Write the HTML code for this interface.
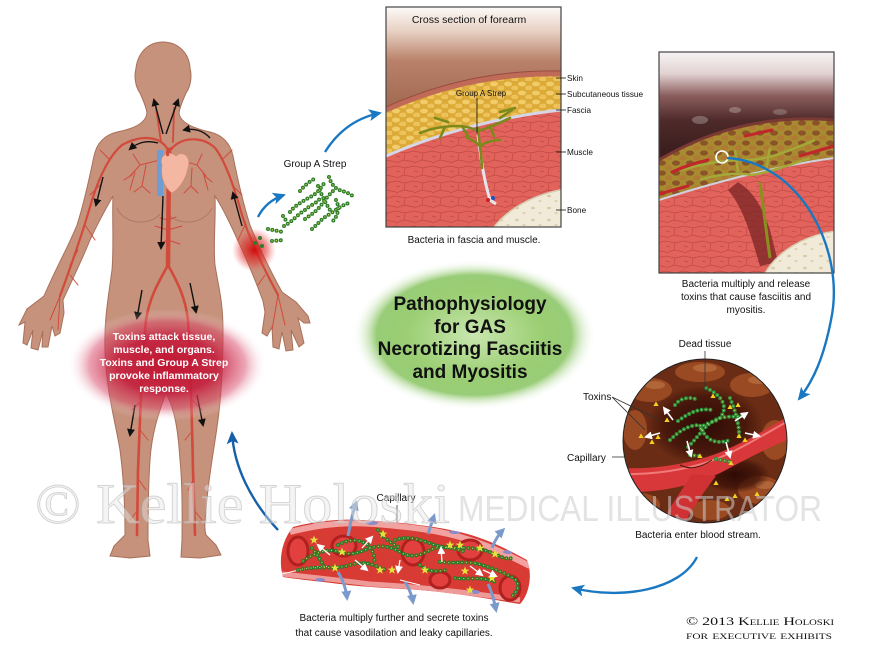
<!DOCTYPE html>
<html><head><meta charset="utf-8"><style>
html,body{margin:0;padding:0;background:#fff;}
svg{display:block;}
text{font-family:"Liberation Sans",Arial,sans-serif;}
text.serif{font-family:"Liberation Serif","DejaVu Serif",serif;}
</style></head><body>
<svg width="870" height="650" viewBox="0 0 870 650" xmlns="http://www.w3.org/2000/svg">
<defs>
  <marker id="bArr" markerUnits="userSpaceOnUse" markerWidth="14" markerHeight="12" refX="11" refY="6" orient="auto"><path d="M0,0 L13,6 L0,12 L3,6 z" fill="#1a78c2"/></marker>
  <marker id="bArr2" markerUnits="userSpaceOnUse" markerWidth="14" markerHeight="12" refX="11" refY="6" orient="auto"><path d="M0,0 L13,6 L0,12 L3,6 z" fill="#1560a8"/></marker>
  <marker id="kArr" markerUnits="userSpaceOnUse" markerWidth="8" markerHeight="8" refX="6" refY="4" orient="auto"><path d="M0,0 L8,4 L0,8 z" fill="#111"/></marker>
  <marker id="wArr" markerUnits="userSpaceOnUse" markerWidth="8" markerHeight="8" refX="6" refY="4" orient="auto"><path d="M0,0 L8,4 L0,8 z" fill="#fff"/></marker>
  <marker id="cArr" markerUnits="userSpaceOnUse" markerWidth="10" markerHeight="10" refX="7" refY="5" orient="auto"><path d="M0,0 L10,5 L0,10 z" fill="#7a9acb"/></marker>

  <radialGradient id="greenG" cx="50%" cy="50%" r="50%">
    <stop offset="0" stop-color="#c9e6b0"/><stop offset="0.55" stop-color="#9ccf74"/><stop offset="0.8" stop-color="#80c056" stop-opacity="0.8"/><stop offset="1" stop-color="#ffffff" stop-opacity="0"/>
  </radialGradient>
  <radialGradient id="redGlow" cx="50%" cy="50%" r="50%">
    <stop offset="0" stop-color="#c0102e" stop-opacity="0.95"/><stop offset="0.5" stop-color="#c41c3c" stop-opacity="0.88"/><stop offset="0.78" stop-color="#d84868" stop-opacity="0.5"/><stop offset="1" stop-color="#ffffff" stop-opacity="0"/>
  </radialGradient>
  <radialGradient id="armGlow" cx="50%" cy="50%" r="50%">
    <stop offset="0" stop-color="#d00808" stop-opacity="0.95"/><stop offset="0.6" stop-color="#e03030" stop-opacity="0.5"/><stop offset="1" stop-color="#ff6060" stop-opacity="0"/>
  </radialGradient>
  <linearGradient id="csBg" x1="0" y1="7" x2="0" y2="105" gradientUnits="userSpaceOnUse">
    <stop offset="0" stop-color="#fdfaf8"/><stop offset="0.25" stop-color="#e7d0c2"/><stop offset="0.55" stop-color="#b98169"/><stop offset="1" stop-color="#a26b52"/>
  </linearGradient>
  <linearGradient id="trBg" x1="0" y1="52" x2="0" y2="150" gradientUnits="userSpaceOnUse">
    <stop offset="0" stop-color="#f8f4f4"/><stop offset="0.22" stop-color="#e2d2d2"/><stop offset="0.45" stop-color="#8a5c5c"/><stop offset="0.7" stop-color="#4e2a2a"/><stop offset="1" stop-color="#3c1e1e"/>
  </linearGradient>
  <radialGradient id="circDark" cx="50%" cy="50%" r="50%">
    <stop offset="0" stop-color="#2a0804" stop-opacity="0.95"/><stop offset="0.7" stop-color="#3a1008" stop-opacity="0.7"/><stop offset="1" stop-color="#3a1008" stop-opacity="0"/>
  </radialGradient>
  <pattern id="fat" width="14" height="9" patternUnits="userSpaceOnUse">
    <rect width="14" height="9" fill="#dcaa38"/>
    <ellipse cx="4" cy="3" rx="4" ry="2.4" fill="#f2cc68"/>
    <ellipse cx="11" cy="7" rx="4" ry="2.4" fill="#eec25a"/>
  </pattern>
  <pattern id="nfat" width="14" height="10" patternUnits="userSpaceOnUse">
    <rect width="14" height="10" fill="#a88a30"/>
    <ellipse cx="4" cy="3" rx="4" ry="2.6" fill="#8a5428"/>
    <ellipse cx="11" cy="8" rx="4" ry="2.6" fill="#b07a34"/>
  </pattern>
  <pattern id="mus" width="18" height="15" patternUnits="userSpaceOnUse">
    <rect width="18" height="15" fill="#e2635b"/>
    <path d="M0,1 L9,3 L18,1 M9,3 L8,10 L0,13 M8,10 L18,12 M4,7 L0,6" stroke="#c04a44" stroke-width="0.7" fill="none"/>
  </pattern>
  <pattern id="bone" width="16" height="12" patternUnits="userSpaceOnUse">
    <rect width="16" height="12" fill="#f2ead8"/>
    <ellipse cx="5" cy="4" rx="2" ry="1.3" fill="#d9cba8"/>
    <ellipse cx="12" cy="9" rx="1.6" ry="1" fill="#ddd0b0"/>
  </pattern>
  <clipPath id="csClip"><rect x="386" y="7" width="175" height="220"/></clipPath>
  <clipPath id="trClip"><rect x="659" y="52" width="175" height="221"/></clipPath>
  <clipPath id="ciClip"><circle cx="705" cy="441" r="82"/></clipPath>
  <clipPath id="capClip"><path d="M293,527 C320,520 345,519 360,520 C400,522 433,526 460,532 C485,538 505,548 527,560 C533,575 529,595 520,604 C500,601 470,595 430,591 C400,588 370,588 340,584 C315,581 295,579 283,577 C278,560 282,540 293,527 Z"/></clipPath>

  <g id="strepA">
    <path d="M300,191 C305,185 310,181 316,178"/>
    <path d="M290,212 C295,205 305,200 312,196 C318,193 322,186 325,182"/>
    <path d="M284,226 C292,222 298,214 305,210 C310,205 318,203 320,198"/>
    <path d="M305,219 C312,214 318,210 322,204 C326,198 330,194 334,190"/>
    <path d="M312,229 C318,224 322,218 330,214 C336,210 340,206 349,203"/>
    <path d="M318,186 C322,196 326,204 330,210"/>
    <path d="M329,177 C332,186 336,190 346,192 L353,196"/>
    <path d="M336,200 C340,208 338,216 332,222"/>
    <path d="M268,229 L283,232"/>
    <path d="M272,241 L284,240"/>
    <path d="M283,216 L287,222"/>
  </g>
  <g id="strepC">
    <path d="M706,388 C720,394 728,405 722,415 C716,425 705,420 700,430"/>
    <path d="M678,421 C690,412 700,408 712,410"/>
    <path d="M670,440 C680,430 690,425 700,425 C705,440 715,445 730,440"/>
    <path d="M688,447 C700,435 705,425 715,420 C725,415 735,418 746,415"/>
    <path d="M730,398 C735,410 740,425 739,440"/>
    <path d="M675,405 C680,398 690,396 698,400"/>
    <path d="M690,455 L700,456"/>
    <path d="M716,459 L731,462"/>
  </g>
  <g id="strepB">
    <path d="M303,561 C315,552 330,548 340,552 C352,556 360,552 370,548 C380,545 390,546 400,552 C410,558 420,556 430,550 C440,545 455,548 465,552"/>
    <path d="M298,570 C320,565 335,570 350,565 C365,560 375,565 388,571"/>
    <path d="M338,545 C348,539 360,539 368,545 C372,550 376,556 374,562"/>
    <path d="M395,540 C410,535 420,540 435,545 C450,550 470,545 490,552 C500,556 505,560 512,558"/>
    <path d="M440,562 C455,564 470,560 485,566 C495,569 505,573 515,579 C520,585 518,591 512,596"/>
    <path d="M455,578 C468,580 480,576 496,582"/>
    <path d="M378,530 C385,540 395,545 400,548"/>
    <path d="M312,548 C318,556 322,562 326,570"/>
    <path d="M420,565 C428,572 436,572 446,570"/>
  </g>
  <polygon id="star" points="0,-4.5 1.2,-1.4 4.3,-1.4 1.8,0.6 2.7,3.7 0,1.9 -2.7,3.7 -1.8,0.6 -4.3,-1.4 -1.2,-1.4" fill="#e6e23c"/>
  <polygon id="tri" points="0,-2.6 2.6,2 -2.6,2" fill="#f2d21e"/>
</defs>

<!-- ===== Center green ellipse ===== -->
<ellipse cx="474" cy="335" rx="122" ry="75" fill="url(#greenG)"/>
<g font-weight="bold" font-size="19" fill="#111" text-anchor="middle">
  <text x="470" y="310">Pathophysiology</text>
  <text x="470" y="333">for GAS</text>
  <text x="470" y="355">Necrotizing Fasciitis</text>
  <text x="470" y="378">and Myositis</text>
</g>

<!-- ===== Body ===== -->
<path d="M163,42 C177,42 189,52 190,68 C192,76 191,86 186,93 C183,100 180,106 179,113 C180,122 192,128 210,132 C222,135 230,142 233,156 C237,176 242,200 250,225 C258,245 270,270 282,292 L296,302 L308,316 L310,323 L304,323 L298,318 L304,343 L299,347 L291,330 L293,350 L286,351 L282,332 L279,349 L273,347 L272,327 L267,336 L262,333 L265,312 L263,301 C256,282 246,258 238,241 C230,223 222,207 215,196 C216,220 213,245 215,265 C218,285 223,300 223,330 C223,360 222,390 218,420 C214,450 208,480 206,510 C205,520 204,528 206,535 L216,545 L221,555 L200,558 L181,557 L182,540 C182,520 183,490 180,460 C178,430 175,410 166,393 C160,410 152,430 150,460 C148,490 148,520 148,540 L150,556 L130,558 L110,556 L114,546 L125,535 C125,510 124,480 120,450 C115,420 106,390 105,350 C104,320 108,300 112,270 C114,245 112,220 113,196 C105,210 97,225 90,240 C82,260 72,280 63,300 L64,313 L60,333 L55,336 L52,326 L48,347 L42,347 L43,331 L38,350 L31,348 L33,330 L27,345 L23,343 L25,322 L19,325 L27,309 L44,296 C55,270 69,245 77,225 C85,200 90,175 94,156 C97,142 105,135 117,132 C137,128 146,122 147,113 C146,106 143,100 140,93 C135,86 134,76 136,68 C138,52 149,42 163,42 Z" fill="#c6927c" stroke="#a8705a" stroke-width="1"/>
<path d="M117,208 C124,225 150,226 160,214 M168,214 C178,226 204,225 212,208" fill="none" stroke="#a87060" stroke-width="0.8"/>

<!-- arteries -->
<g fill="none" stroke="#d24a3c" stroke-linecap="round">
  <path d="M169,150 L168,265" stroke-width="4.5"/>
  <path d="M168,265 C160,280 150,295 146,320 C142,360 140,420 138,470 L137,535" stroke-width="2.6"/>
  <path d="M168,265 C176,280 185,295 188,320 C190,360 192,420 193,470 L195,535" stroke-width="2.6"/>
  <path d="M168,150 C160,135 140,135 122,145 C110,155 100,175 92,200 C85,225 75,255 60,296" stroke-width="2.2"/>
  <path d="M172,148 C185,135 205,138 215,148 C225,160 235,190 242,215 C250,240 262,265 278,295" stroke-width="2.2"/>
  <path d="M161,142 L156,108 M173,142 L174,108" stroke-width="1.8"/>
  <g stroke-width="1">
    <path d="M160,160 L140,165 L130,176 M140,165 L133,154 M146,165 L142,186 L134,192 M142,186 L150,193 M132,175 L124,180 M135,172 L130,190"/>
    <path d="M180,160 L197,165 L206,176 M197,165 L202,154 M192,168 L191,186 L198,193 M191,186 L184,193 M205,176 L212,182 M203,172 L208,190"/>
    <path d="M168,230 L155,226 M168,230 L182,226 M168,240 L158,244 M168,240 L180,244 M168,220 L160,218 M168,220 L176,217"/>
    <path d="M146,330 L136,345 M145,360 L152,372 M142,400 L132,410 M140,430 L148,440 M139,480 L146,490 M138,510 L130,520"/>
    <path d="M189,330 L198,345 M190,360 L182,372 M192,400 L202,410 M193,430 L185,440 M193,480 L188,490 M194,510 L202,520"/>
    <path d="M110,160 L100,150 M100,185 L90,195 M85,225 L95,240 M78,250 L70,265 M70,275 L78,285"/>
    <path d="M222,160 L232,150 M232,185 L242,195 M245,225 L238,240 M253,250 L262,262 M265,275 L258,285"/>
    <path d="M60,296 L50,320 M60,296 L58,330 M278,295 L285,325 M278,295 L272,330"/>
  </g>
</g>
<rect x="157" y="150" width="6" height="46" fill="#6e9cd4"/>
<path d="M162,165 C158,155 170,150 176,156 C182,150 192,156 188,168 C186,180 178,190 172,193 C165,188 160,178 162,165 Z" fill="#f4b8a2" stroke="#d88c78" stroke-width="0.8"/>
<path d="M168,156 C166,150 170,147 172,150" fill="none" stroke="#d24a3c" stroke-width="3"/>

<g fill="none" stroke="#111" stroke-width="1.4" marker-end="url(#kArr)">
  <path d="M163,134 L154,100"/>
  <path d="M166,134 L178,100"/>
  <path d="M158,143 C148,140 138,142 130,149"/>
  <path d="M210,138 C203,130 193,128 184,130"/>
  <path d="M103,177 L96,205"/>
  <path d="M163,196 L161,248"/>
  <path d="M242,226 L233,193"/>
  <path d="M142,290 L137,318"/>
  <path d="M190,283 L196,312"/>
  <path d="M135,405 L130,435"/>
  <path d="M197,395 L203,425"/>
</g>

<ellipse cx="167" cy="365" rx="100" ry="56" fill="url(#redGlow)"/>
<circle cx="254" cy="250" r="22" fill="url(#armGlow)"/>
<g font-weight="bold" font-size="10.5" fill="#fff" text-anchor="middle">
  <text x="164" y="340">Toxins attack tissue,</text>
  <text x="164" y="353">muscle, and organs.</text>
  <text x="164" y="366">Toxins and Group A Strep</text>
  <text x="164" y="379">provoke inflammatory</text>
  <text x="164" y="392">response.</text>
</g>

<!-- ===== Group A strep ===== -->
<text x="315" y="167" font-size="10" text-anchor="middle" fill="#111">Group A Strep</text>
<use href="#strepA" fill="none" stroke="#2e7c2a" stroke-width="4" stroke-linecap="round" stroke-dasharray="0 4.4"/>
<use href="#strepA" fill="none" stroke="#c2dc52" stroke-width="1.4" stroke-linecap="round" stroke-dasharray="0 4.4"/>
<g fill="#2e7c2a"><circle cx="255" cy="243" r="2"/><circle cx="260" cy="238" r="2"/><circle cx="262" cy="246" r="2"/></g>

<!-- ===== Cross section panel ===== -->
<g clip-path="url(#csClip)">
  <rect x="386" y="7" width="175" height="220" fill="url(#csBg)"/>
  <path d="M386,112 Q470,74 561,76 L561,110 Q470,120 386,156 Z" fill="url(#fat)"/>
  <path d="M386,156 Q470,120 561,110 L561,230 L386,230 Z" fill="url(#mus)"/>
  <path d="M386,110 Q470,72 561,74" fill="none" stroke="#c06a58" stroke-width="5"/>
  <path d="M386,107 Q470,69 561,71" fill="none" stroke="#9a4a40" stroke-width="1"/>
  <path d="M386,156 Q470,120 561,110" fill="none" stroke="#d6d6e6" stroke-width="3"/>
  <path d="M478,135 C481,160 484,180 490,200 L496,204" fill="none" stroke="#e4e4ee" stroke-width="3"/>
  <g fill="none" stroke="#7c8a1c" stroke-width="2.6" stroke-linecap="round">
    <path d="M478,128 C479,140 481,150 482,168"/>
    <path d="M420,133 C432,128 445,126 458,126 C466,126 472,128 478,131 C488,128 498,124 510,118"/>
    <path d="M445,127 L440,138 M462,126 L468,136 M490,126 L494,136 M500,118 L512,110"/>
    <path d="M466,137 C472,140 476,142 480,146 C486,142 492,140 500,140"/>
    <path d="M500,112 L515,108 M435,118 L448,122"/>
  </g>
  <ellipse cx="590" cy="265" rx="110" ry="78" fill="url(#bone)" stroke="#d8ccb0" stroke-width="1.5"/>
  <circle cx="488" cy="200" r="2" fill="#d02020"/><circle cx="493" cy="198" r="2" fill="#2050c0"/>
</g>
<rect x="386" y="7" width="175" height="220" fill="none" stroke="#444" stroke-width="1.2"/>
<text x="469" y="23" font-size="10.5" text-anchor="middle" fill="#111">Cross section of forearm</text>
<text x="481" y="96" font-size="8" text-anchor="middle" fill="#111">Group A Strep</text>
<line x1="477" y1="98" x2="477" y2="133" stroke="#111" stroke-width="0.8"/>
<g stroke="#111" stroke-width="0.8">
  <line x1="556" y1="78" x2="566" y2="78"/><line x1="556" y1="94" x2="566" y2="94"/><line x1="556" y1="110" x2="566" y2="110"/><line x1="556" y1="152" x2="566" y2="152"/><line x1="556" y1="210" x2="566" y2="210"/>
</g>
<g font-size="8.2" fill="#111">
  <text x="567" y="81">Skin</text>
  <text x="567" y="97">Subcutaneous tissue</text>
  <text x="567" y="113">Fascia</text>
  <text x="567" y="155">Muscle</text>
  <text x="567" y="213">Bone</text>
</g>
<text x="474" y="243" font-size="10" text-anchor="middle" fill="#111">Bacteria in fascia and muscle.</text>

<!-- ===== Top-right panel ===== -->
<g clip-path="url(#trClip)">
  <rect x="659" y="52" width="175" height="221" fill="url(#trBg)"/>
  <ellipse cx="700" cy="120" rx="8" ry="4" fill="#fff" opacity="0.25"/><ellipse cx="735" cy="110" rx="6" ry="3" fill="#fff" opacity="0.25"/><ellipse cx="780" cy="112" rx="7" ry="3" fill="#fff" opacity="0.2"/>
  <path d="M659,160 Q740,112 834,120 L834,158 Q760,168 659,200 Z" fill="url(#nfat)"/>
  <path d="M659,160 Q740,112 834,120" fill="none" stroke="#7a3a34" stroke-width="3"/>
  <path d="M659,200 Q760,168 834,158 L834,280 L659,280 Z" fill="url(#mus)"/>
  <path d="M659,200 Q760,168 834,158" fill="none" stroke="#d0d0de" stroke-width="2"/>
  <g fill="none" stroke="#a4a838" stroke-width="2.5">
    <path d="M680,170 C700,165 720,160 745,160 C770,160 790,150 815,140"/>
    <path d="M700,180 C715,175 735,172 752,175 C770,172 790,165 810,158"/>
    <path d="M735,150 L738,172 M770,148 L766,170"/>
  </g>
  <path d="M738,182 C750,190 760,200 770,230 L778,262 L760,266 C752,240 745,210 728,190 Z" fill="#7a2424" opacity="0.75"/>
  <path d="M760,182 C763,205 766,230 770,258" fill="none" stroke="#8a9020" stroke-width="3"/>
  <g fill="none" stroke="#c0262a" stroke-width="3" stroke-linecap="round">
    <path d="M672,172 Q690,164 708,160"/>
    <path d="M745,136 L772,130"/>
    <path d="M800,156 L834,146"/>
    <path d="M659,194 L688,186"/>
  </g>
  <ellipse cx="852" cy="302" rx="95" ry="72" fill="url(#bone)" stroke="#d8ccb0" stroke-width="1.5"/>
  <circle cx="722" cy="157" r="6" fill="none" stroke="#fff" stroke-width="1.6"/>
</g>
<rect x="659" y="52" width="175" height="221" fill="none" stroke="#444" stroke-width="1.2"/>
<g font-size="10" text-anchor="middle" fill="#111">
  <text x="746" y="287">Bacteria multiply and release</text>
  <text x="746" y="300">toxins that cause fasciitis and</text>
  <text x="746" y="313">myositis.</text>
</g>

<!-- ===== Circle ===== -->
<g clip-path="url(#ciClip)">
  <rect x="620" y="355" width="172" height="172" fill="#6a2c14"/>
  <g fill="#9a4a22">
    <ellipse cx="650" cy="390" rx="22" ry="12"/><ellipse cx="700" cy="372" rx="25" ry="10"/><ellipse cx="752" cy="385" rx="22" ry="12"/>
    <ellipse cx="635" cy="430" rx="12" ry="20"/><ellipse cx="775" cy="440" rx="14" ry="20"/>
    <ellipse cx="640" cy="505" rx="20" ry="12"/><ellipse cx="760" cy="490" rx="22" ry="14"/><ellipse cx="710" cy="510" rx="20" ry="10"/>
  </g>
  <g fill="#c07a48" opacity="0.6">
    <ellipse cx="655" cy="385" rx="10" ry="4"/><ellipse cx="705" cy="368" rx="12" ry="4"/><ellipse cx="758" cy="380" rx="10" ry="4"/><ellipse cx="765" cy="485" rx="10" ry="4"/><ellipse cx="640" cy="500" rx="8" ry="4"/>
  </g>
  <ellipse cx="705" cy="425" rx="58" ry="40" fill="url(#circDark)"/>
  <ellipse cx="735" cy="475" rx="35" ry="18" fill="url(#circDark)"/>
  <path d="M618,468 C660,470 700,462 730,448 C760,434 775,424 792,414 L792,438 C772,446 752,456 726,470 C700,484 660,494 618,492 Z" fill="#d8383a"/>
  <path d="M692,474 C682,490 668,510 655,532 L680,532 C690,512 702,494 716,476 Z" fill="#d03234"/>
  <path d="M620,474 C660,475 700,468 732,452 C760,438 775,428 792,419" fill="none" stroke="#f07a78" stroke-width="2"/>
  <path d="M680,465 C690,470 700,468 712,460" fill="none" stroke="#4a1a0a" stroke-width="1"/>
  <use href="#strepC" fill="none" stroke="#2e8c3a" stroke-width="4" stroke-linecap="round" stroke-dasharray="0 4.4"/>
  <use href="#strepC" fill="none" stroke="#b8e070" stroke-width="1.3" stroke-linecap="round" stroke-dasharray="0 4.4"/>
  <g>
    <use href="#tri" x="713" y="396"/><use href="#tri" x="656" y="404"/><use href="#tri" x="667" y="420"/><use href="#tri" x="641" y="436"/><use href="#tri" x="652" y="442"/><use href="#tri" x="658" y="437"/><use href="#tri" x="730" y="407"/><use href="#tri" x="738" y="405"/><use href="#tri" x="745" y="440"/><use href="#tri" x="739" y="436"/><use href="#tri" x="700" y="456"/><use href="#tri" x="731" y="463"/><use href="#tri" x="735" y="496"/><use href="#tri" x="716" y="483"/><use href="#tri" x="727" y="499"/><use href="#tri" x="757" y="494"/>
  </g>
  <g stroke="#fff" stroke-width="1.6" fill="none" marker-end="url(#wArr)">
    <path d="M673,420 L664,408"/><path d="M660,433 L646,437"/><path d="M735,421 L747,413"/><path d="M745,433 L759,436"/><path d="M687,441 L691,456"/><path d="M726,442 L730,457"/>
  </g>
</g>
<circle cx="705" cy="441" r="82" fill="none" stroke="#222" stroke-width="1"/>
<text x="705" y="347" font-size="10" text-anchor="middle" fill="#111">Dead tissue</text>
<line x1="705" y1="351" x2="705" y2="392" stroke="#333" stroke-width="0.8"/>
<text x="583" y="400" font-size="10" fill="#111">Toxins</text>
<path d="M612,397 L660,420 M612,397 L645,430" fill="none" stroke="#333" stroke-width="0.8"/>
<text x="567" y="461" font-size="10" fill="#111">Capillary</text>
<line x1="612" y1="457" x2="624" y2="457" stroke="#333" stroke-width="0.8"/>
<text x="698" y="538" font-size="10" text-anchor="middle" fill="#111">Bacteria enter blood stream.</text>

<!-- ===== Bottom capillary ===== -->
<g clip-path="url(#capClip)">
  <rect x="278" y="515" width="255" height="95" fill="#d83a34"/>
  <path d="M290,532 C320,524 350,522 375,524 C410,527 440,530 470,540 C495,548 510,556 530,566" fill="none" stroke="#f2a2a0" stroke-width="6"/>
  <path d="M282,574 C310,577 340,580 370,584 C410,586 450,590 520,600" fill="none" stroke="#ee9a98" stroke-width="5"/>
  <ellipse cx="372" cy="523" rx="6" ry="2" fill="#8a8ac8"/><ellipse cx="455" cy="532" rx="6" ry="2" fill="#8a8ac8"/><ellipse cx="320" cy="580" rx="5" ry="2" fill="#8a8ac8"/><ellipse cx="475" cy="592" rx="5" ry="2" fill="#8a8ac8"/><ellipse cx="508" cy="552" rx="5" ry="2" fill="#8a8ac8"/>
  <g fill="#e2403e" stroke="#b0201e" stroke-width="3">
    <ellipse cx="298" cy="551" rx="10" ry="14"/><ellipse cx="344" cy="546" rx="12" ry="10"/><ellipse cx="413" cy="552" rx="11" ry="13"/><ellipse cx="470" cy="550" rx="12" ry="10"/><ellipse cx="510" cy="588" rx="10" ry="12"/><ellipse cx="440" cy="580" rx="10" ry="8"/>
  </g>
  <g fill="none" stroke="#fff" stroke-width="1">
    <path d="M282,574 C300,570 315,565 330,567"/><path d="M400,580 L420,585"/>
  </g>
</g>
<use href="#strepB" fill="none" stroke="#2a7a2a" stroke-width="4" stroke-linecap="round" stroke-dasharray="0 4.4"/>
<use href="#strepB" fill="none" stroke="#b8d850" stroke-width="1.3" stroke-linecap="round" stroke-dasharray="0 4.4"/>
<g>
  <use href="#star" x="314" y="540"/><use href="#star" x="342" y="552"/><use href="#star" x="383" y="534"/><use href="#star" x="335" y="568"/><use href="#star" x="380" y="570"/><use href="#star" x="392" y="570"/><use href="#star" x="425" y="570"/><use href="#star" x="450" y="545"/><use href="#star" x="465" y="571"/><use href="#star" x="480" y="548"/><use href="#star" x="495" y="554"/><use href="#star" x="460" y="545"/><use href="#star" x="492" y="578"/><use href="#star" x="470" y="590"/>
</g>
<g stroke="#fff" stroke-width="1.3" fill="none" marker-end="url(#wArr)">
  <path d="M330,555 L318,545"/><path d="M362,548 L372,537"/><path d="M355,560 L367,570"/><path d="M400,560 L398,572"/><path d="M442,562 L441,548"/><path d="M470,566 L482,575"/><path d="M483,570 L496,576"/>
</g>
<g stroke="#7a9acb" stroke-width="3" fill="none" marker-end="url(#cArr)">
  <path d="M348,536 C350,525 352,515 356,503"/>
  <path d="M428,534 C430,528 432,522 434,516"/>
  <path d="M492,548 C495,540 498,535 503,530"/>
  <path d="M338,572 C343,580 346,588 347,598"/>
  <path d="M405,582 C410,590 412,596 413,602"/>
  <path d="M488,584 C492,592 494,600 496,610"/>
</g>
<text x="396" y="501" font-size="10" text-anchor="middle" fill="#111">Capillary</text>
<line x1="397" y1="505" x2="397" y2="522" stroke="#333" stroke-width="0.8"/>
<g font-size="10" text-anchor="middle" fill="#111">
  <text x="394" y="621">Bacteria multiply further and secrete toxins</text>
  <text x="394" y="636">that cause vasodilation and leaky capillaries.</text>
</g>

<!-- ===== Blue flow arrows ===== -->
<g fill="none" stroke="#1a78c2" stroke-width="2.4">
  <path d="M258,217 Q266,201 284,195" marker-end="url(#bArr)"/>
  <path d="M325,152 Q345,120 380,113" marker-end="url(#bArr)"/>
  <path d="M727,158 C800,162 846,250 831,320 C824,356 814,380 799,399" marker-end="url(#bArr)"/>
  <path d="M697,557 C680,590 622,600 573,588" marker-end="url(#bArr)"/>
</g>
<path d="M278,530 C250,500 234,466 232,433" fill="none" stroke="#1560a8" stroke-width="2.4" marker-end="url(#bArr2)"/>

<!-- ===== Watermark ===== -->
<text class="serif" x="35" y="523" font-size="57" fill="#e6e6e6" fill-opacity="0.45" stroke="#b4b4b4" stroke-opacity="0.55" stroke-width="0.9" textLength="415" lengthAdjust="spacingAndGlyphs">© Kellie Holoski</text>
<text x="458" y="521" font-size="36" fill="#cccccc" fill-opacity="0.55" textLength="364" lengthAdjust="spacingAndGlyphs">MEDICAL ILLUSTRATOR</text>

<!-- ===== Copyright ===== -->
<text class="serif" x="686" y="625" font-size="12" fill="#111" style="font-variant:small-caps" textLength="148" lengthAdjust="spacingAndGlyphs">© 2013 Kellie Holoski</text>
<text class="serif" x="686" y="639" font-size="12" fill="#111" style="font-variant:small-caps" textLength="146" lengthAdjust="spacingAndGlyphs">for executive exhibits</text>
</svg>
</body></html>
